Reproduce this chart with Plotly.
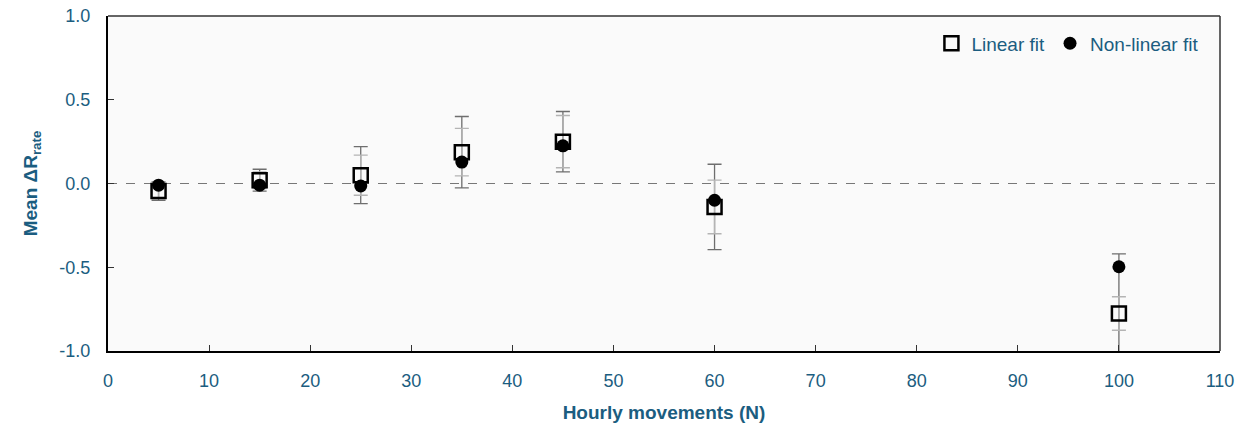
import plotly.graph_objects as go

movements = [5, 15, 25, 35, 45, 60, 100]
linear_fit = [-0.045, 0.02, 0.05, 0.187, 0.25, -0.14, -0.776]
nonlinear_fit = [-0.01, -0.01, -0.015, 0.128, 0.225, -0.10, -0.497]
err_outer = [0.055, 0.065, 0.17, 0.213, 0.18, 0.255, 0.356]
err_inner = [0.04, 0.05, 0.12, 0.142, 0.156, 0.16, 0.10]

x_ticks = [0, 10, 20, 30, 40, 50, 60, 70, 80, 90, 100, 110]
y_ticks = [-1.0, -0.5, 0.0, 0.5, 1.0]
y_tick_labels = ["-1.0", "-0.5", "0.0", "0.5", "1.0"]

TEXT = "#1b5d80"
FONT = "Liberation Sans, Arial, sans-serif"

fig = go.Figure()

# outer (dark) error bars
fig.add_trace(go.Scatter(
    x=movements, y=linear_fit, mode="markers",
    marker=dict(size=1, color="rgba(0,0,0,0)"),
    error_y=dict(type="data", array=err_outer, color="#6e6e6e", thickness=1.3, width=7),
    showlegend=False, hoverinfo="skip"))
# inner (light) error bars
fig.add_trace(go.Scatter(
    x=movements, y=linear_fit, mode="markers",
    marker=dict(size=1, color="rgba(0,0,0,0)"),
    error_y=dict(type="data", array=err_inner, color="#b4b4b4", thickness=1.3, width=7),
    showlegend=False, hoverinfo="skip"))

fig.add_trace(go.Scatter(
    x=movements, y=linear_fit, mode="markers", name="Linear fit",
    marker=dict(symbol="square-open", size=14, color="black", line=dict(width=2.5, color="black"))))
fig.add_trace(go.Scatter(
    x=movements, y=nonlinear_fit, mode="markers", name="Non-linear fit",
    marker=dict(symbol="circle", size=13, color="black")))

fig.add_shape(type="line", xref="paper", x0=0, x1=1, yref="y", y0=0, y1=0,
              line=dict(color="#777777", width=1, dash="dash"), layer="below")

fig.update_layout(
    width=1247, height=428,
    margin=dict(l=108, r=27, t=16, b=77),
    paper_bgcolor="white", plot_bgcolor="#fafafa",
    font=dict(family=FONT, color=TEXT, size=18),
    legend=dict(orientation="h", x=0.986, xanchor="right", y=0.975, yanchor="top",
                bgcolor="rgba(0,0,0,0)", font=dict(size=19, color=TEXT),
                itemwidth=30, tracegroupgap=0),
    xaxis=dict(range=[0, 110], tickvals=x_ticks, ticks="inside", ticklen=6, tickcolor="#333",
               showgrid=False, zeroline=False, showline=True, linecolor="black", linewidth=2,
               mirror=False, tickfont=dict(size=18, color=TEXT), ticklabelstandoff=12,
               automargin=False,
               title=dict(text="<b>Hourly movements (N)</b>", font=dict(size=19, color=TEXT), standoff=16)),
    yaxis=dict(range=[-1.0, 1.0], tickvals=y_ticks, ticktext=y_tick_labels, ticks="inside", ticklen=6,
               tickcolor="#333", showgrid=False, zeroline=False, showline=True, linecolor="black",
               linewidth=2, tickfont=dict(size=18, color=TEXT), ticklabelstandoff=12,
               automargin=False,
               title=dict(text="<b>Mean ΔR<sub>rate</sub></b>", font=dict(size=19, color=TEXT), standoff=17)),
)
# top and right frame lines
fig.add_shape(type="line", xref="paper", yref="paper", x0=0, x1=1, y0=1, y1=1,
              line=dict(color="#333", width=1.5))
fig.add_shape(type="line", xref="paper", yref="paper", x0=1, x1=1, y0=0, y1=1,
              line=dict(color="#333", width=1.5))

fig.write_html("out.html")
